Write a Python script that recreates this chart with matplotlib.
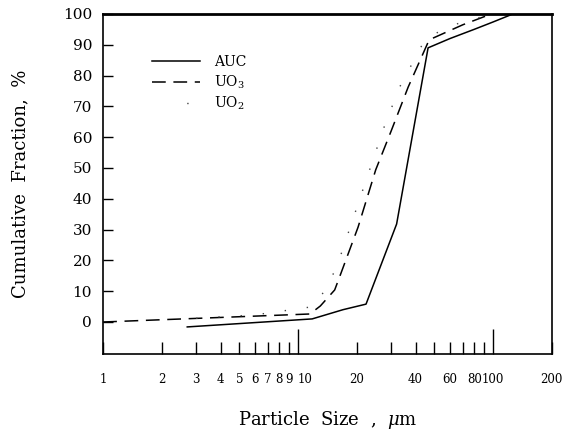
import matplotlib
matplotlib.use("Agg")
import matplotlib.pyplot as plt
from matplotlib.ticker import FixedLocator, NullLocator

plt.rcParams['font.family'] = ['DejaVu Serif']
plt.rcParams['mathtext.fontset'] = 'dejavuserif'

# AUC (solid)
auc_x = [2.7, 11.8, 17, 22.3, 32, 46.4, 60, 80, 100, 123]
auc_y = [-1.6, 1.0, 4.0, 5.8, 31.8, 89, 92, 95, 97.4, 99.7]
# UO3 (dashed)
uo3_x = [1, 11.5, 13, 15.4, 16.6, 20.3, 25, 30, 36.7, 47, 70, 98]
uo3_y = [0, 2.6, 5.2, 10.4, 15.9, 30.8, 49.4, 62, 76.3, 91.6, 96.5, 100]
# UO2 (dotted)
uo2_x = [3, 6, 12, 14.2, 16, 27.5, 33, 45, 60, 70, 80, 93]
uo2_y = [1.2, 2.3, 5, 11.7, 19, 63, 76, 92, 96, 97.4, 98.4, 99.4]

xticks = [1, 2, 3, 4, 5, 6, 7, 8, 9, 10, 20, 30, 40, 50, 60, 70, 80, 90, 100, 200]
xlabels = ['1', '2', '3', '4', '5', '6', '7', '8', '9', '10', '20', '', '40', '', '60', '', '80', '', '100', '200']
yticks = [0, 10, 20, 30, 40, 50, 60, 70, 80, 90, 100]

fig = plt.figure(figsize=(5.73, 4.36), dpi=100)
ax = fig.add_axes([0.18, 0.188, 0.783, 0.78])

ax.plot(auc_x, auc_y, color='black', lw=1.1, label='AUC')
ax.plot(uo3_x, uo3_y, color='black', lw=1.1, linestyle=(0, (9, 5)), label='UO$_3$')
ax.plot(uo2_x, uo2_y, color='#444444', lw=1.0, linestyle=(0, (1, 15)), label='UO$_2$')

ax.set_xscale('log')
ax.set_xlim(1, 200)
ax.set_ylim(-10.4, 100)
ax.xaxis.set_major_locator(FixedLocator(xticks))
ax.set_xticklabels(xlabels)
ax.xaxis.set_minor_locator(NullLocator())
ax.set_yticks(yticks)

ax.tick_params(axis='x', direction='in', length=9, width=1, labelsize=8.5, pad=14)
ax.tick_params(axis='y', direction='in', length=7, width=1, labelsize=11, pad=8)
for t in ax.xaxis.get_major_ticks():
    if t.get_loc() in (10, 100):
        t.tick1line.set_markersize(18)
    if t.get_loc() == 10:
        t.label1.set_horizontalalignment('left')
        t.label1.set_x(9.9)

for s in ax.spines.values():
    s.set_linewidth(1.2)
ax.spines['top'].set_linewidth(2)

ax.set_xlabel('Particle  Size  ,  $\\mu$m', fontsize=13, labelpad=16)
ax.set_ylabel('Cumulative  Fraction,  %', fontsize=13, labelpad=24)

leg = ax.legend(loc='upper left', bbox_to_anchor=(0.08, 0.915), frameon=False,
                fontsize=10, handlelength=3.5, handletextpad=1.0, labelspacing=0.3)
# single dot in the UO2 legend sample
leg.get_lines()[2].set_linestyle((16, (1, 40)))

fig.savefig('out.png', dpi=100)
